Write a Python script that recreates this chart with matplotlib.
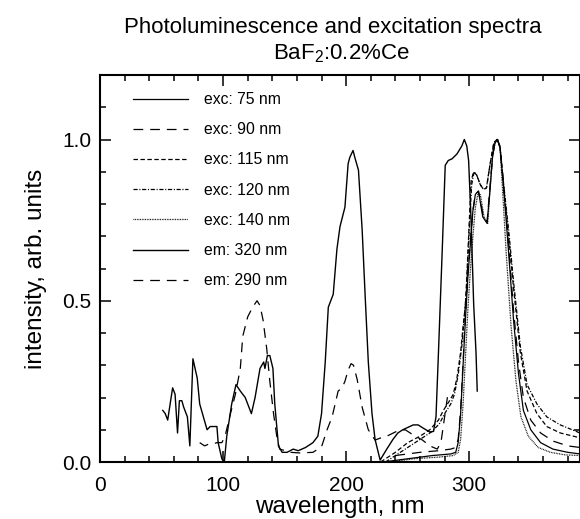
import matplotlib
matplotlib.use('Agg')
import matplotlib.pyplot as plt
from matplotlib.ticker import MultipleLocator, FormatStrFormatter

plt.rcParams['font.family'] = ['Liberation Sans', 'DejaVu Sans']
plt.rcParams['mathtext.fontset'] = 'custom'
plt.rcParams['mathtext.rm'] = 'Liberation Sans'
plt.rcParams['mathtext.it'] = 'Liberation Sans:italic'
plt.rcParams['lines.scale_dashes'] = False

# excitation spectrum, emission monitored at 320 nm
em320_x = [51, 53, 55, 59, 61, 63, 64.5, 66.5, 68, 71, 73, 75.5, 79, 81, 84, 87, 89.5, 92, 95, 96,
           99, 101, 103, 107, 110.5, 114, 118, 120, 123, 126, 130, 133, 134, 136, 138, 140.5, 142,
           145, 148, 152, 157, 161, 167, 173, 177, 180, 183, 185.5, 189.5, 192.5, 195, 199, 201.6,
           203, 205.6, 207, 210, 213, 215.5, 218, 221, 223.5, 227.6, 233, 238, 242, 246, 254.5,
           258.5, 262.6, 268, 271, 273, 275, 278, 280.5, 283, 286, 290, 294, 296, 298, 299.5,
           301.5, 303.6, 305.5, 306.5]
em320_y = [0.16, 0.15, 0.13, 0.23, 0.21, 0.09, 0.19, 0.19, 0.17, 0.14, 0.05, 0.32, 0.26, 0.18, 0.14,
           0.10, 0.11, 0.11, 0.11, 0.06, 0.01, 0.0, 0.08, 0.18, 0.24, 0.22, 0.20, 0.18, 0.15, 0.20,
           0.29, 0.31, 0.29, 0.33, 0.33, 0.29, 0.18, 0.05, 0.03, 0.03, 0.04, 0.035, 0.045, 0.06,
           0.08, 0.15, 0.31, 0.48, 0.52, 0.66, 0.73, 0.79, 0.925, 0.945, 0.966, 0.945, 0.905, 0.72,
           0.51, 0.31, 0.15, 0.07, 0.006, 0.04, 0.07, 0.09, 0.10, 0.115, 0.115, 0.105, 0.093,
           0.095, 0.14, 0.34, 0.65, 0.92, 0.935, 0.94, 0.955, 0.98, 1.0, 0.98, 0.935, 0.75, 0.49,
           0.34, 0.22]

# excitation spectrum, emission monitored at 290 nm
em290_x = [81, 85, 88, 91, 95, 99, 101.6, 106, 110, 114, 116, 120, 124, 127.6, 130, 132.5, 135.5,
           138, 141, 144, 146, 155, 162.6, 173, 180, 184.5, 188.6, 193.5, 196.7, 199, 201.6, 204,
           206, 209, 213, 218, 223.5, 227.6, 233, 241, 248, 254, 262, 268, 274, 277, 280, 283]
em290_y = [0.06, 0.05, 0.055, 0.055, 0.06, 0.06, 0.08, 0.15, 0.21, 0.29, 0.39, 0.45, 0.48, 0.50,
           0.485, 0.44, 0.35, 0.25, 0.15, 0.07, 0.04, 0.03, 0.028, 0.03, 0.047, 0.10, 0.14, 0.22,
           0.23, 0.25, 0.285, 0.305, 0.30, 0.255, 0.17, 0.10, 0.068, 0.074, 0.08, 0.095, 0.10,
           0.085, 0.068, 0.05, 0.04, 0.06, 0.14, 0.22]

# emission spectra for different excitation wavelengths
exc75_x = [230, 250, 270, 285, 289, 291, 293, 295, 297, 299, 301, 303, 305, 307.5, 311, 314.5, 317,
           319, 321, 323, 325, 328, 332, 336, 340, 344, 350, 358, 368, 380, 390]
exc75_y = [0.0, 0.01, 0.02, 0.025, 0.03, 0.06, 0.15, 0.30, 0.45, 0.58, 0.68, 0.78, 0.83, 0.84,
           0.76, 0.74, 0.85, 0.95, 0.99, 1.0, 0.975, 0.85, 0.65, 0.44, 0.275, 0.16, 0.10, 0.06,
           0.04, 0.03, 0.025]

exc90_x = [240, 260, 275, 285, 289, 291, 293, 295, 297, 299, 301, 303, 305, 307.5, 311, 314.5, 317,
           319, 321, 323, 325, 328, 332, 336, 340, 344, 350, 358, 368, 380, 390]
exc90_y = [0.02, 0.03, 0.035, 0.04, 0.045, 0.07, 0.16, 0.31, 0.46, 0.59, 0.69, 0.78, 0.83, 0.84,
           0.77, 0.745, 0.86, 0.95, 0.99, 1.0, 0.975, 0.86, 0.67, 0.47, 0.31, 0.20, 0.13, 0.09,
           0.065, 0.05, 0.045]

exc115_x = [228, 240, 250, 260, 268, 275, 279, 284, 287, 290, 293, 295, 297, 299.5, 301.5, 303.5,
            306, 309, 311.6, 314, 317, 320, 322.5, 325, 328, 332, 336, 341.5, 347, 355, 363, 374, 390]
exc115_y = [0.0, 0.03, 0.06, 0.08, 0.10, 0.13, 0.16, 0.19, 0.21, 0.26, 0.34, 0.42, 0.49, 0.70, 0.87,
            0.90, 0.89, 0.86, 0.845, 0.85, 0.925, 0.99, 1.0, 0.98, 0.85, 0.70, 0.54, 0.34, 0.22,
            0.15, 0.11, 0.09, 0.075]

exc120_x = [232, 242, 252, 262, 270, 276, 280, 285, 288, 291, 294, 296, 298, 300, 302, 304,
            306, 309, 311.6, 314, 317, 320, 322.5, 325, 328, 332, 336, 341.5, 347, 355, 363, 374, 390]
exc120_y = [0.0, 0.025, 0.05, 0.075, 0.095, 0.12, 0.15, 0.18, 0.21, 0.27, 0.36, 0.45, 0.55, 0.72,
            0.86, 0.90, 0.89, 0.86, 0.845, 0.85, 0.925, 0.99, 1.0, 0.98, 0.86, 0.72, 0.56, 0.36,
            0.24, 0.18, 0.14, 0.115, 0.09]

exc140_x = [235, 255, 275, 287, 291, 293, 295, 297, 299, 301, 303, 305, 307, 309, 312, 315, 317,
            319, 321, 323, 325, 327, 330, 334, 338, 342, 348, 356, 366, 378, 390]
exc140_y = [0.0, 0.01, 0.015, 0.02, 0.03, 0.07, 0.18, 0.33, 0.48, 0.60, 0.70, 0.79, 0.83, 0.83,
            0.76, 0.74, 0.85, 0.95, 0.99, 1.0, 0.975, 0.85, 0.65, 0.42, 0.25, 0.14, 0.08, 0.045,
            0.03, 0.022, 0.02]

fig = plt.figure(figsize=(5.8, 5.19), dpi=100)
ax = fig.add_axes([100 / 580, 1 - 462 / 519, 480 / 580, 387 / 519])

lw = 0.9
ax.plot(exc75_x, exc75_y, color='black', lw=lw, label='exc: 75 nm')
ax.plot(exc90_x, exc90_y, color='black', lw=lw, dashes=(7, 5), label='exc: 90 nm')
ax.plot(exc115_x, exc115_y, color='black', lw=lw, dashes=(3.2, 1.8), label='exc: 115 nm')
ax.plot(exc120_x, exc120_y, color='black', lw=lw, dashes=(3, 1.2, 0.8, 1.2), label='exc: 120 nm')
ax.plot(exc140_x, exc140_y, color='black', lw=lw, dashes=(0.6, 0.6), label='exc: 140 nm')
ax.plot(em320_x, em320_y, color='black', lw=1.0, label='em: 320 nm')
ax.plot(em290_x, em290_y, color='black', lw=lw, dashes=(7, 5), label='em: 290 nm')

ax.set_xlim(0, 390)
ax.set_ylim(0, 1.2)
ax.xaxis.set_major_locator(MultipleLocator(100))
ax.xaxis.set_minor_locator(MultipleLocator(20))
ax.yaxis.set_major_locator(MultipleLocator(0.5))
ax.yaxis.set_minor_locator(MultipleLocator(0.1))
ax.yaxis.set_major_formatter(FormatStrFormatter('%.1f'))
ax.tick_params(which='both', direction='in', top=True, right=True, width=1.1, labelsize=15)
ax.tick_params(which='major', length=8)
ax.tick_params(which='minor', length=4.5)
ax.tick_params(axis='x', which='major', pad=10)
ax.tick_params(axis='y', which='major', pad=6)
for s in ax.spines.values():
    s.set_linewidth(1.5)

ax.set_xlabel('wavelength, nm', fontsize=17.5, labelpad=1)
ax.set_ylabel('intensity, arb. units', fontsize=17.5, labelpad=11)

ax.legend(loc='upper left', bbox_to_anchor=(33 / 480, 1 - 17 / 387), frameon=False,
          fontsize=11.3, handlelength=3.5, handletextpad=1.0, labelspacing=0.97,
          borderpad=0, borderaxespad=0)

fig.text(333 / 580, 1 - 32.5 / 519, 'Photoluminescence and excitation spectra',
         ha='center', va='baseline', fontsize=16)
fig.text(341.5 / 580, 1 - 59.5 / 519, r'BaF$_2$:0.2%Ce', ha='center', va='baseline', fontsize=16)

fig.savefig('out.png', dpi=100)
